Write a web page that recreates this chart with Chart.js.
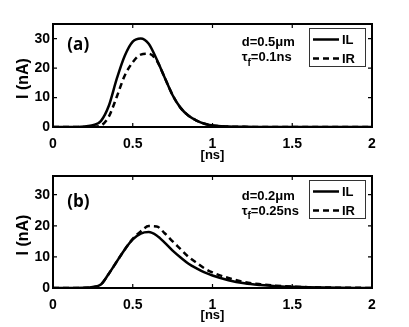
<!DOCTYPE html>
<html><head><meta charset="utf-8">
<script src="https://cdn.jsdelivr.net/npm/chart.js@4"></script>
<style>
html,body{margin:0;padding:0;background:#fff;}
#wrap{position:relative;width:409px;height:327px;overflow:hidden;}
canvas{position:absolute;left:0;}
#c1{top:0;} #c2{top:163px;}
</style></head><body>
<div id="wrap"><canvas id="c1" width="409" height="163"></canvas><canvas id="c2" width="409" height="164"></canvas></div>
<script>
// ---- data ----
const timeNs = [0,0.1,0.2,0.25,0.3,0.35,0.4,0.45,0.5,0.55,0.6,0.65,0.7,0.75,0.8,0.85,0.9,0.95,1.0,1.1,1.2,1.3,1.4,1.5,1.6,1.7,1.8,1.9,2.0];
const seriesNames = ['IL','IR'];
const ilA = [0,0,0.2,0.6,2.0,7.2,16.4,24.2,29.0,30.1,28.3,23,16.8,10.8,6.5,3.8,2.2,1.1,0.5,0.15,0.05,0.02,0,0,0,0,0,0,0];
const irA = [0,0,0,0.1,0.5,3.5,10.3,17.5,22,24.6,24.9,22.6,16.8,10.8,6.5,3.8,2.2,1.1,0.5,0.15,0.05,0.02,0,0,0,0,0,0,0];
const ilB = [0,0,0.05,0.3,1.1,4.6,8.5,12.4,15.6,17.5,18,16.9,14.6,12,9.8,7.8,6.3,5.0,4.0,2.5,1.5,0.95,0.6,0.4,0.25,0.15,0.08,0.04,0.02];
const irB = [0,0,0.05,0.3,1.1,4.6,8.5,12.4,15.8,18.2,19.9,19.8,17.6,15,12.5,10,8.1,6.3,5.0,3.2,1.9,1.2,0.75,0.45,0.28,0.17,0.1,0.05,0.03];
const xTickStep = 0.5;
const yTickStep = 10;
const panelLabels = ['(a)','(b)'];
const thicknessLabels = ['d=0.5\u03bcm','d=0.2\u03bcm'];
const tauLabels = ['=0.1ns','=0.25ns'];
const xAxisTitle = '[ns]';
const yAxisTitle = 'I (nA)';

const FONT = "'Liberation Sans', Arial, Helvetica, sans-serif";
Chart.defaults.font.family = FONT;
Chart.defaults.color = '#000';

const deco = {
  id:'deco',
  afterDatasetsDraw(chart, args, o){
    const ctx = chart.ctx, a = chart.chartArea, xs = chart.scales.x, ys = chart.scales.y;
    ctx.save();
    // inward ticks
    ctx.strokeStyle = '#000'; ctx.lineWidth = 1.2;
    const tl = 4;
    ctx.beginPath();
    xs.ticks.forEach(t=>{ if(t.value<=xs.min||t.value>=xs.max) return; const px = xs.getPixelForValue(t.value);
      ctx.moveTo(px,a.bottom); ctx.lineTo(px,a.bottom-tl); ctx.moveTo(px,a.top); ctx.lineTo(px,a.top+tl);});
    ys.ticks.forEach(t=>{ if(t.value<=ys.min||t.value>=ys.max) return; const py = ys.getPixelForValue(t.value);
      ctx.moveTo(a.left,py); ctx.lineTo(a.left+tl,py); ctx.moveTo(a.right,py); ctx.lineTo(a.right-tl,py);});
    ctx.stroke();
    // frame
    ctx.lineWidth = 2;
    ctx.strokeRect(a.left, a.top, a.right-a.left, a.bottom-a.top);
    // axis titles
    ctx.fillStyle = '#000';
    ctx.textAlign = 'center'; ctx.textBaseline = 'middle';
    ctx.font = "bold 13px " + FONT;
    ctx.fillText(xAxisTitle, (a.left+a.right)/2, a.bottom + o.xTitleOff);
    ctx.save();
    ctx.translate(24, (a.top+a.bottom)/2 + 3);
    ctx.rotate(-Math.PI/2);
    ctx.font = "bold 16px " + FONT;
    ctx.fillText(yAxisTitle, 0, 0);
    ctx.restore();
    // panel label
    ctx.textBaseline = 'middle'; ctx.textAlign = 'left';
    ctx.font = "bold 17px 'Open Sans', sans-serif";
    ctx.fillText(o.label, xs.getPixelForValue(o.labelX), ys.getPixelForValue(o.labelY));
    // parameters
    ctx.font = "bold 13px " + FONT;
    const tx = xs.getPixelForValue(o.textX);
    ctx.fillText(o.thick, tx, ys.getPixelForValue(o.textY1));
    const ty = ys.getPixelForValue(o.textY2);
    ctx.fillText('\u03c4', tx, ty);
    const w = ctx.measureText('\u03c4').width;
    ctx.font = "bold 10px " + FONT;
    ctx.fillText('f', tx+w, ty+5);
    const wf = ctx.measureText('f').width;
    ctx.font = "bold 13px " + FONT;
    ctx.fillText(o.tau, tx+w+wf, ty);
    // legend
    const bw = 56, bh = 38;
    const bx = a.right-63, by = a.top+4;
    ctx.fillStyle = '#fff'; ctx.fillRect(bx,by,bw,bh);
    ctx.strokeStyle = '#333'; ctx.lineWidth = 1;
    ctx.strokeRect(bx+0.5,by+0.5,bw,bh);
    chart.data.datasets.forEach((ds,i)=>{
      const ry = by + 11.5 + i*19;
      ctx.strokeStyle = '#000'; ctx.lineWidth = ds.borderWidth;
      ctx.setLineDash(ds.borderDash||[]);
      ctx.beginPath(); ctx.moveTo(bx+4, ry); ctx.lineTo(bx+30, ry); ctx.stroke();
      ctx.setLineDash([]);
      ctx.fillStyle = '#000'; ctx.font = "bold 13px " + FONT;
      ctx.textAlign='left'; ctx.textBaseline='middle';
      ctx.fillText(ds.label, bx+33, ry+0.5);
    });
    ctx.restore();
  }
};

function makeChart(id, il, ir, o){
  const mk = arr => timeNs.map((t,i)=>({x:t,y:arr[i]}));
  return new Chart(document.getElementById(id), {
    type:'line',
    data:{datasets:[
      {label:seriesNames[0], data:mk(il), borderColor:'#000', borderWidth:2.5, pointRadius:0, cubicInterpolationMode:'monotone', fill:false},
      {label:seriesNames[1], data:mk(ir), borderColor:'#000', borderWidth:2.5, borderDash:[6,4], pointRadius:0, cubicInterpolationMode:'monotone', fill:false}
    ]},
    options:{
      responsive:false, animation:false, devicePixelRatio:1,
      layout:{padding:{top:o.padTop, right:37, left:0, bottom:0}},
      plugins:{legend:{display:false}, tooltip:{enabled:false}, deco:o.deco},
      scales:{
        x:{type:'linear', min:0, max:2,
           ticks:{stepSize:xTickStep, padding:9, color:'#000', font:{size:14, weight:'bold'}, maxRotation:0,
                  callback:v=>String(Math.round(v*10)/10)},
           grid:{display:false, drawTicks:false}, border:{display:false},
           afterFit(s){ s.height = o.xAxisH; }},
        y:{min:0, max:o.yMax,
           ticks:{stepSize:yTickStep, padding:3, color:'#000', font:{size:14, weight:'bold'}},
           afterBuildTicks(s){ s.ticks = s.ticks.filter(t=>Math.abs(t.value%yTickStep)<1e-9); },
           grid:{display:false, drawTicks:false}, border:{display:false},
           afterFit(s){ s.width = 53; }}
      }
    },
    plugins:[deco]
  });
}

makeChart('c1', ilA, irA, {padTop:24, xAxisH:36, yMax:35,
  deco:{label:panelLabels[0], labelX:0.09, labelY:27.8, thick:thicknessLabels[0], tau:tauLabels[0], textX:1.183, textY1:28.7, textY2:23.5, xTitleOff:28.5}});
makeChart('c2', ilB, irB, {padTop:13, xAxisH:39, yMax:36,
  deco:{label:panelLabels[1], labelX:0.09, labelY:27.7, thick:thicknessLabels[1], tau:tauLabels[1], textX:1.183, textY1:29.5, textY2:24.7, xTitleOff:27.5}});
</script>
</body></html>
